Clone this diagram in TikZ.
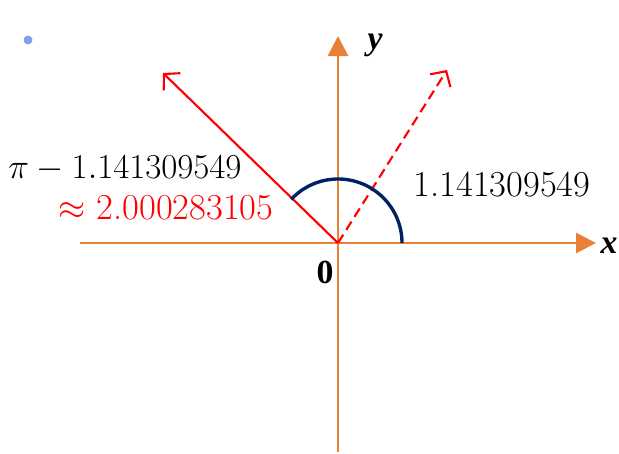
\documentclass[tikz,border=0pt]{standalone}
\usepackage{fontspec}
\usepackage{tikz}
\usetikzlibrary{arrows.meta,positioning}

\newfontfamily\axisfont{Liberation Serif}
\definecolor{axisorange}{RGB}{232,128,56}
\definecolor{arcnavy}{RGB}{0,34,100}
\definecolor{dotblue}{RGB}{128,160,232}

\begin{document}
\begin{tikzpicture}[
    x=0.025cm, y=0.025cm,
    axis/.style={draw=axisorange, line width=2.1pt, -{Triangle[length=5mm, width=5mm]}},
    vec/.style={draw=red, line width=1.5pt, -{Straight Barb[length=2.8mm, width=6mm, line width=1.5pt]}},
    lbl/.style={inner sep=0pt, font=\fontsize{26}{30}\selectfont},
    axlbl/.style={inner sep=0pt, font=\axisfont\fontsize{24}{28}\selectfont\bfseries}
]
\useasboundingbox (0,0) rectangle (619,454);
\coordinate (O) at (338,211);
\coordinate (xs) at (80,211);
\coordinate (xe) at (596,211);
\coordinate (ys) at (338,2);
\coordinate (ye) at (338,418);
\coordinate (v1) at (163,381);
\coordinate (v2) at (447,384);
\coordinate (arcstart) at (402,211);
% axes
\draw[axis] (xs) -- (xe);
\draw[axis] (ys) -- (ye);
% the two directions
\draw[vec] (O) -- (v1);
\draw[vec, dashed, dash pattern=on 7pt off 4pt] (O) -- (v2);
% angle arc
\draw[arcnavy, line width=2.4pt] (arcstart) arc[start angle=0, end angle=137, radius=64];
% labels
\node[axlbl] (ylbl) at (375,409) {\itshape y};
\node[axlbl] (xlbl) at (609,208) {\itshape x};
\node[axlbl] (zero) at (325,182) {0};
\node[lbl] (ang) at (502,269) {1.141309549};
\node[lbl, anchor=west] (diff) at (8,285) {$\pi - 1.141309549$};
\node[lbl, anchor=west, text=red] (approx) at (58,246) {$\approx$ 2.000283105};
\fill[dotblue] (28,414) circle[radius=4.5];
\end{tikzpicture}
\end{document}
